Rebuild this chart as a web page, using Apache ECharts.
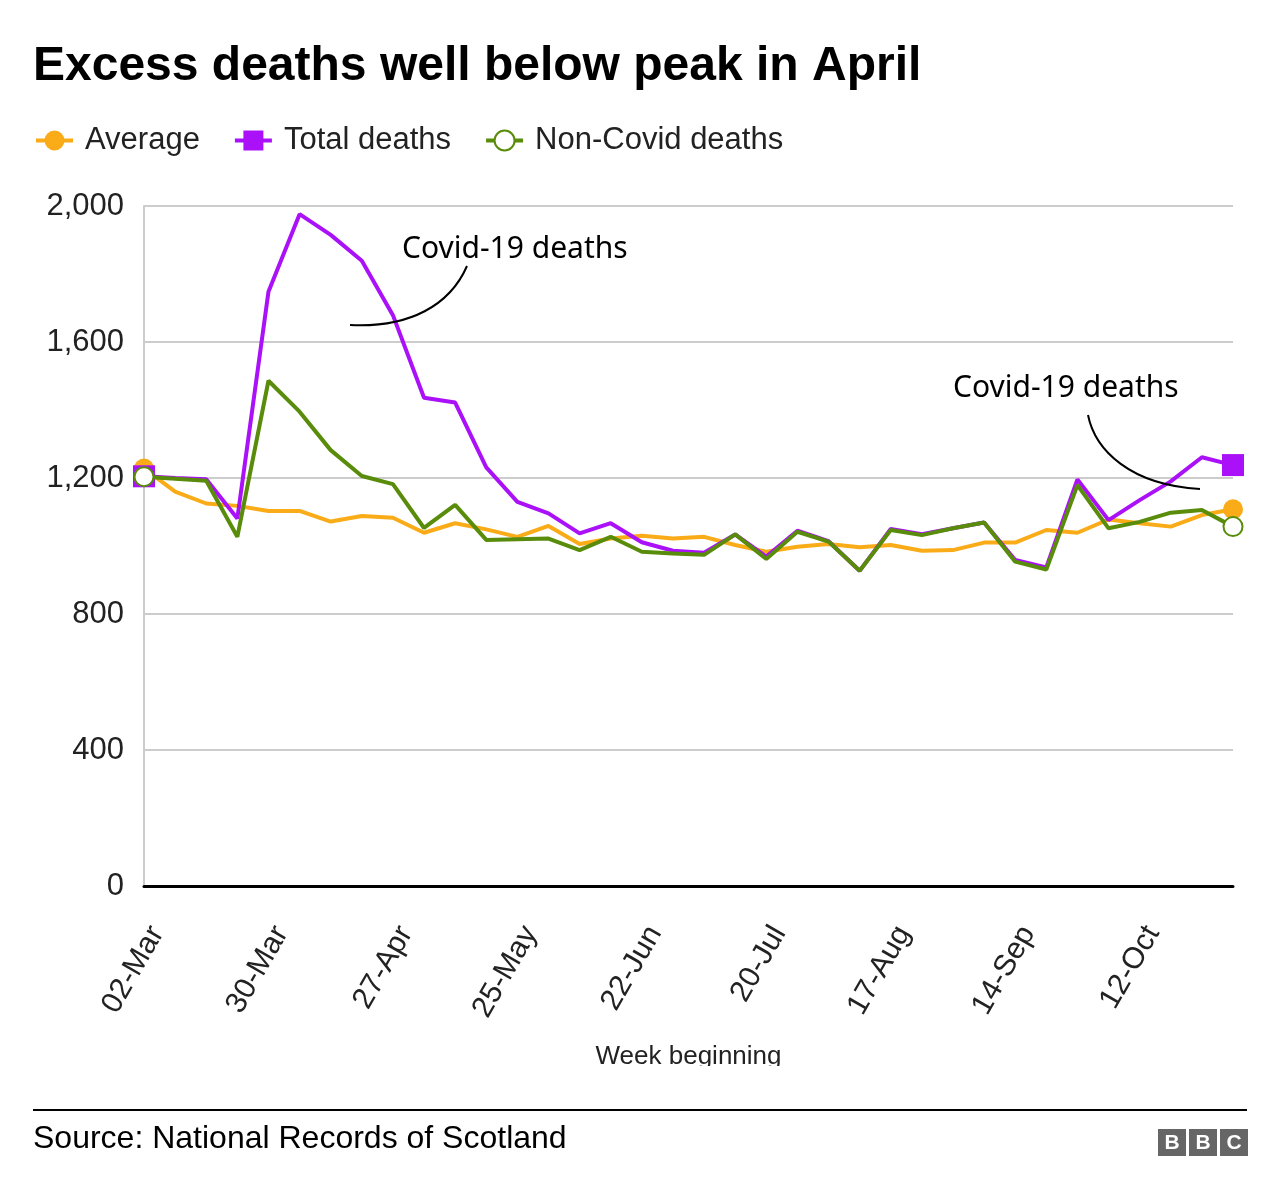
<!DOCTYPE html>
<html>
<head>
<meta charset="utf-8">
<script src="https://cdn.jsdelivr.net/npm/echarts@6/dist/echarts.min.js"></script>
<style>
  html, body { margin: 0; padding: 0; background: #ffffff; }
  #chart { width: 1280px; height: 1198px; }
</style>
</head>
<body>
<div id="chart"></div>
<script>
// ---- Data ----
const weeks = [
  '02-Mar','09-Mar','16-Mar','23-Mar','30-Mar','06-Apr','13-Apr','20-Apr','27-Apr',
  '04-May','11-May','18-May','25-May','01-Jun','08-Jun','15-Jun','22-Jun','29-Jun',
  '06-Jul','13-Jul','20-Jul','27-Jul','03-Aug','10-Aug','17-Aug','24-Aug','31-Aug',
  '07-Sep','14-Sep','21-Sep','28-Sep','05-Oct','12-Oct','19-Oct','26-Oct','02-Nov'
];
const average = [
  1228, 1160, 1125, 1118, 1103, 1103, 1072, 1088, 1083, 1039, 1067, 1049,
  1027, 1059, 1006, 1022, 1030, 1022, 1027, 1003, 983, 998, 1006, 996,
  1003, 986, 988, 1010, 1010, 1047, 1039, 1078, 1067, 1057, 1091, 1108
];
const totalDeaths = [
  1205, 1200, 1196, 1081, 1748, 1976, 1915, 1839, 1679, 1436, 1422, 1231,
  1130, 1096, 1037, 1067, 1011, 986, 980, 1034, 969, 1045, 1014, 927,
  1050, 1035, 1052, 1069, 959, 937, 1196, 1076, 1135, 1190, 1261, 1238
];
const nonCovidDeaths = [
  1204, 1198, 1192, 1027, 1486, 1395, 1282, 1206, 1182, 1053, 1121, 1018,
  1020, 1022, 988, 1027, 983, 978, 974, 1034, 962, 1042, 1013, 927,
  1047, 1032, 1052, 1069, 954, 931, 1179, 1052, 1071, 1098, 1106, 1057
];
const seriesNames = ['Average', 'Total deaths', 'Non-Covid deaths'];
const yMin = 0, yMax = 2000, yStep = 400;

// ---- Styles ----
const FONT = '"Liberation Sans", Arial, Helvetica, sans-serif';
const ANNO_FONT = '30px "Noto Sans", "Open Sans", sans-serif';
const ORANGE = '#FAAB18', PURPLE = '#AA11F8', GREEN = '#588C0A';
const LINE_W = 4;

// markers only on the first and last week
function endMarkers(arr) {
  return arr.map((v, i) => (i === 0 || i === arr.length - 1) ? v : { value: v, symbol: 'none' });
}

const chart = echarts.init(document.getElementById('chart'), null, { renderer: 'canvas' });

const option = {
  animation: false,
  backgroundColor: '#ffffff',
  title: {
    text: 'Excess deaths well below peak in April',
    left: 33, top: 43, padding: 0,
    textStyle: { fontFamily: FONT, fontSize: 48, fontWeight: 'bold', color: '#000' }
  },
  legend: {
    left: 34, top: 125, padding: 0,
    itemWidth: 37, itemHeight: 25, itemGap: 33,
    data: [
      { name: seriesNames[0] },
      { name: seriesNames[1] },
      { name: seriesNames[2], itemStyle: { borderWidth: 3 } }
    ],
    lineStyle: { width: LINE_W },
    textStyle: { fontFamily: FONT, fontSize: 31, color: '#222', padding: [0, 0, 0, 7] }
  },
  grid: { left: 144, right: 47, top: 206, bottom: 312, containLabel: false },
  xAxis: {
    type: 'category',
    data: weeks,
    boundaryGap: false,
    axisLine: { show: true, lineStyle: { color: '#000', width: 3 } },
    axisTick: { show: false },
    axisLabel: {
      interval: 3, rotate: 60, margin: 35, verticalAlign: 'top',
      fontFamily: FONT, fontSize: 30, color: '#222'
    },
    name: 'Week beginning',
    nameLocation: 'middle', nameGap: 158,
    nameTextStyle: { fontFamily: FONT, fontSize: 26, color: '#222' }
  },
  yAxis: {
    type: 'value',
    min: yMin, max: yMax, interval: yStep,
    axisLine: { show: true, lineStyle: { color: '#cccccc', width: 2 } },
    axisTick: { show: false },
    splitLine: { show: true, lineStyle: { color: '#cccccc', width: 2 } },
    axisLabel: {
      margin: 20, fontFamily: FONT, fontSize: 31, color: '#222',
      formatter: v => v.toLocaleString('en-US')
    }
  },
  series: [
    {
      name: seriesNames[0], type: 'line', data: endMarkers(average),
      color: ORANGE, symbol: 'circle', symbolSize: 20, showAllSymbol: true,
      lineStyle: { width: LINE_W, color: ORANGE },
      itemStyle: { color: ORANGE }, z: 2
    },
    {
      name: seriesNames[1], type: 'line', data: endMarkers(totalDeaths),
      color: PURPLE, symbol: 'rect', symbolSize: 22, showAllSymbol: true,
      lineStyle: { width: LINE_W, color: PURPLE },
      itemStyle: { color: PURPLE }, z: 3
    },
    {
      name: seriesNames[2], type: 'line', data: endMarkers(nonCovidDeaths),
      color: GREEN, symbol: 'emptyCircle', symbolSize: 19, showAllSymbol: true,
      lineStyle: { width: LINE_W, color: GREEN },
      itemStyle: { color: GREEN, borderColor: GREEN, borderWidth: 4 }, z: 4
    }
  ],
  graphic: [
    // annotation 1
    { type: 'text', left: 402, top: 234, z: 10,
      style: { text: 'Covid-19 deaths', font: ANNO_FONT, fill: '#000' } },
    { type: 'bezierCurve', z: 10,
      shape: { x1: 467, y1: 266, cpx1: 450, cpy1: 305, cpx2: 410, cpy2: 328, x2: 350, y2: 325 },
      style: { stroke: '#000', lineWidth: 2, fill: null } },
    // annotation 2
    { type: 'text', left: 953, top: 373, z: 10,
      style: { text: 'Covid-19 deaths', font: ANNO_FONT, fill: '#000' } },
    { type: 'bezierCurve', z: 10,
      shape: { x1: 1088, y1: 415, cpx1: 1095, cpy1: 450, cpx2: 1130, cpy2: 485, x2: 1200, y2: 489 },
      style: { stroke: '#000', lineWidth: 2, fill: null } },
    // the axis title is clipped just below its baseline in the original
    { type: 'rect', z: 20, shape: { x: 560, y: 1066, width: 260, height: 30 }, style: { fill: '#fff' } },
    // footer rule
    { type: 'line', z: 10, shape: { x1: 33, y1: 1110, x2: 1247, y2: 1110 }, style: { stroke: '#000', lineWidth: 2 } },
    // source
    { type: 'text', left: 33, top: 1123, z: 10,
      style: { text: 'Source: National Records of Scotland', font: '32px "Liberation Sans", Arial, sans-serif', fill: '#000' } },
    // BBC blocks
    { type: 'group', left: 1158, top: 1129, z: 10, children: [
      { type: 'rect', shape: { x: 0, y: 0, width: 28, height: 27 }, style: { fill: '#666' } },
      { type: 'rect', shape: { x: 31, y: 0, width: 28, height: 27 }, style: { fill: '#666' } },
      { type: 'rect', shape: { x: 62, y: 0, width: 28, height: 27 }, style: { fill: '#666' } },
      { type: 'text', x: 14, y: 14, style: { text: 'B', font: 'bold 21px "Liberation Sans", Arial', fill: '#fff', align: 'center', verticalAlign: 'middle' } },
      { type: 'text', x: 45, y: 14, style: { text: 'B', font: 'bold 21px "Liberation Sans", Arial', fill: '#fff', align: 'center', verticalAlign: 'middle' } },
      { type: 'text', x: 76, y: 14, style: { text: 'C', font: 'bold 21px "Liberation Sans", Arial', fill: '#fff', align: 'center', verticalAlign: 'middle' } }
    ]}
  ]
};
chart.setOption(option);
</script>
</body>
</html>
